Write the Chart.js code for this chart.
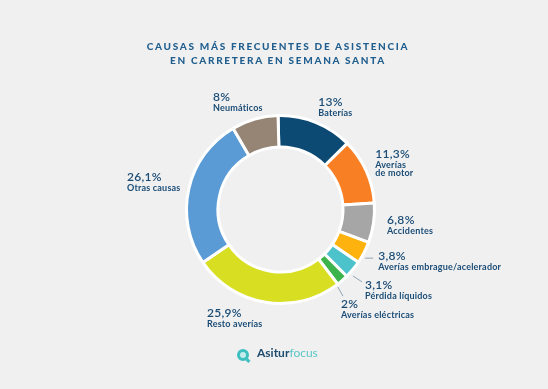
<!DOCTYPE html>
<html lang="es">
<head>
<meta charset="utf-8">
<title>Causas más frecuentes de asistencia en carretera en Semana Santa</title>
<script src="https://cdn.jsdelivr.net/npm/chart.js@4.4.1/dist/chart.umd.min.js"></script>
<style>
    html, body { margin: 0; padding: 0; background: #f0f0f0; }
    #lienzo { position: relative; width: 548px; height: 389px; overflow: hidden; background: #f0f0f0; font-family: Lato, 'DejaVu Sans', sans-serif; }
    #grafico { position: absolute; left: 0; top: 0; }
    .titulo { position: absolute; left: 4px; top: 39px; width: 548px; text-align: center; color: #1f5e8e; font-weight: 900; font-size: 10px; line-height: 14px; letter-spacing: 1.7px; }
    .logo-icono { position: absolute; left: 237px; top: 349px; width: 6px; height: 6px; border: 3px solid #3dbfc0; border-radius: 50%; background: #c4ecec; }
    .logo-icono::after { content: ''; position: absolute; right: -4px; bottom: -4px; width: 4px; height: 3px; background: #3dbfc0; transform: rotate(45deg); }
    .logo-texto { position: absolute; left: 257px; top: 346px; font-size: 12px; line-height: 14px; color: #1f4c6e; font-weight: 700; }
    .logo-texto span { color: #5cc6c6; font-weight: 400; }
</style>
</head>
<body>
<div id="lienzo">
    <canvas id="grafico" width="548" height="389"></canvas>
    <div class="titulo">CAUSAS MÁS FRECUENTES DE ASISTENCIA<br>EN CARRETERA EN SEMANA SANTA</div>
    <div class="logo-icono"></div>
    <div class="logo-texto">Asitur<span>focus</span></div>
</div>
<script>
// Datos
const categorias = ['Baterías', 'Averías\nde motor', 'Accidentes', 'Averías embrague/acelerador', 'Pérdida líquidos', 'Averías eléctricas', 'Resto averías', 'Otras causas', 'Neumáticos'];
const porcentajes = [13, 11.3, 6.8, 3.8, 3.1, 2, 25.9, 26.1, 8];
const colores = ['#0c4a73', '#f97f24', '#a6a6a6', '#fdb20e', '#4cc3ca', '#3cb44b', '#d8df22', '#5b9bd5', '#968574'];

// Colocación de las etiquetas: línea base del % respecto al borde exterior de su sector
const desplEtiquetas = [[3, -17], [10, -13.6], [14.5, 1.2], [15, 8], [13, 20], [-0.7, 28.5], [-58.8, 15.7], [-62.8, -8.4], [-42, -19]];
// Líneas guía de los sectores pequeños (x1, y1, x2, y2 respecto al mismo punto)
const lineasGuia = [null, null, null, [2, 6, 10, 6], [1, 7, 10, 13], [-3.7, 7.5, 1.3, 16.5], null, null, null];

function formatoPct(v) {
    return String(v).replace('.', ',') + '%';
}

const etiquetasPlugin = {
    id: 'etiquetas',
    afterDatasetsDraw(chart) {
        const ctx = chart.ctx;
        const meta = chart.getDatasetMeta(0);
        ctx.save();
        meta.data.forEach((arc, i) => {
            const p = arc.getProps(['x', 'y', 'startAngle', 'endAngle', 'outerRadius'], true);
            const medio = (p.startAngle + p.endAngle) / 2;
            const r = p.outerRadius - 1;
            const bx = p.x + Math.cos(medio) * r;
            const by = p.y + Math.sin(medio) * r;

            const guia = lineasGuia[i];
            if (guia) {
                ctx.strokeStyle = '#8fa3b3';
                ctx.lineWidth = 1;
                ctx.beginPath();
                ctx.moveTo(bx + guia[0], by + guia[1]);
                ctx.lineTo(bx + guia[2], by + guia[3]);
                ctx.stroke();
            }

            const tx = bx + desplEtiquetas[i][0];
            const ty = by + desplEtiquetas[i][1];
            ctx.fillStyle = '#1a4c76';
            ctx.textAlign = 'left';
            ctx.textBaseline = 'alphabetic';
            ctx.font = '600 12px Lato';
            ctx.letterSpacing = '0.3px';
            ctx.fillText(formatoPct(chart.data.datasets[0].data[i]), tx, ty);
            ctx.font = '700 9px Lato';
            ctx.letterSpacing = '0.2px';
            chart.data.labels[i].split('\n').forEach((linea, j) => {
                ctx.fillText(linea, tx, ty + 10 + j * 8.5);
            });
        });
        ctx.restore();
    }
};

new Chart(document.getElementById('grafico'), {
    type: 'doughnut',
    data: {
        labels: categorias,
        datasets: [{
            data: porcentajes,
            backgroundColor: colores,
            borderColor: '#ffffff',
            borderWidth: 3,
            hoverOffset: 0
        }]
    },
    options: {
        responsive: false,
        animation: false,
        rotation: -1.5,
        cutout: '66.5%',
        layout: { padding: { left: 185, right: 172, top: 114, bottom: 84 } },
        plugins: {
            legend: { display: false },
            tooltip: { enabled: false }
        }
    },
    plugins: [etiquetasPlugin]
});
</script>
</body>
</html>
